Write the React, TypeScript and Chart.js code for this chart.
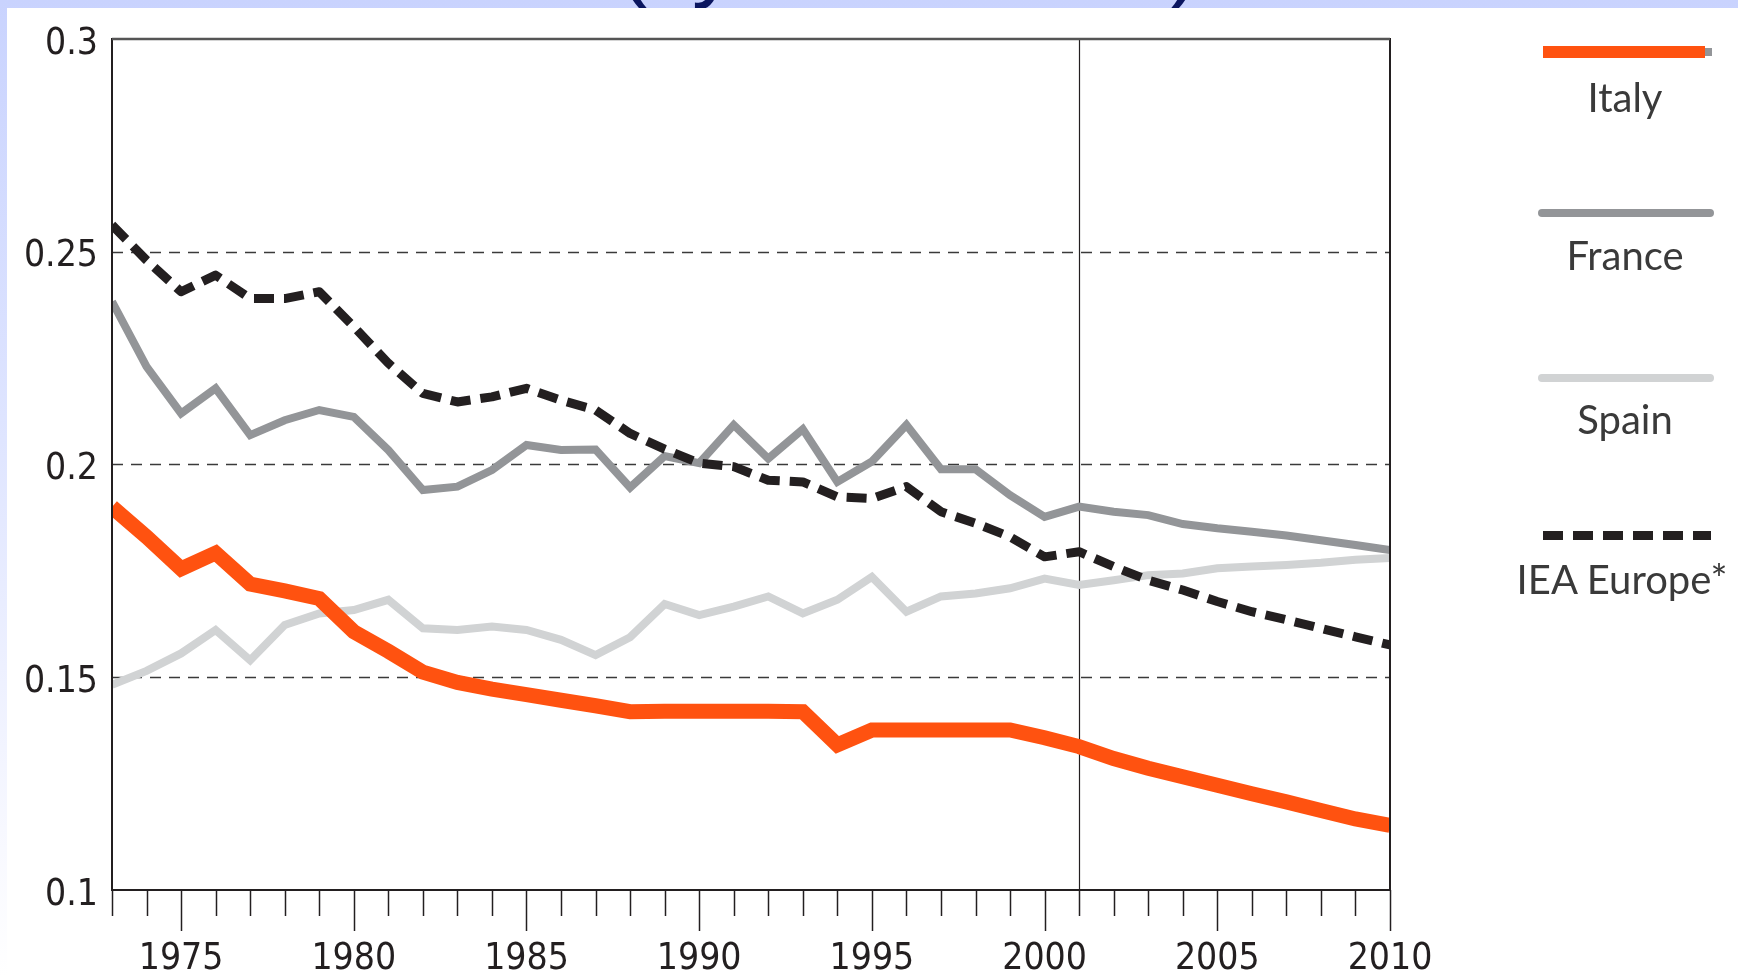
import React, { useEffect, useRef } from "react";
import { Chart, registerables } from "chart.js";

Chart.register(...registerables);

// ---------- data ----------
const years = [
  1973, 1974, 1975, 1976, 1977, 1978, 1979, 1980, 1981, 1982,
  1983, 1984, 1985, 1986, 1987, 1988, 1989, 1990, 1991, 1992,
  1993, 1994, 1995, 1996, 1997, 1998, 1999, 2000, 2001, 2002,
  2003, 2004, 2005, 2006, 2007, 2008, 2009, 2010,
];

const italy = [
  0.19, 0.183, 0.1755, 0.1792, 0.1719, 0.1703, 0.1685, 0.1607, 0.1561, 0.1512,
  0.1488, 0.1472, 0.1459, 0.1446, 0.1433, 0.1419, 0.142, 0.142, 0.142, 0.142,
  0.1419, 0.1341, 0.1376, 0.1376, 0.1376, 0.1376, 0.1376, 0.1358, 0.1337, 0.1309,
  0.1286, 0.1266, 0.1246, 0.1226, 0.1207, 0.1187, 0.1167, 0.1152,
];

const france = [
  0.2383, 0.223, 0.212, 0.2179, 0.2069, 0.2104, 0.2128, 0.2112, 0.2034, 0.194,
  0.1948, 0.1987, 0.2046, 0.2034, 0.2035, 0.1946, 0.202, 0.2003, 0.2093, 0.2014,
  0.2083, 0.1959, 0.2007, 0.2093, 0.1989, 0.1989, 0.1928, 0.1877, 0.1901, 0.1889,
  0.1881, 0.186, 0.185, 0.1842, 0.1833, 0.1822, 0.1811, 0.1799,
];

const spain = [
  0.1482, 0.1515, 0.1556, 0.1611, 0.154, 0.1623, 0.165, 0.1658, 0.1682, 0.1615,
  0.1611, 0.1619, 0.1611, 0.1588, 0.1552, 0.1594, 0.1672, 0.1646, 0.1666, 0.169,
  0.165, 0.1682, 0.1736, 0.1654, 0.169, 0.1697, 0.1709, 0.1732, 0.1717, 0.1728,
  0.174, 0.1744, 0.1756, 0.176, 0.1764, 0.1769, 0.1776, 0.178,
];

const ieaEurope = [
  0.2563, 0.248, 0.2406, 0.2445, 0.239, 0.239, 0.2406, 0.2324, 0.2238, 0.2167,
  0.2147, 0.2159, 0.2179, 0.2151, 0.2128, 0.2073, 0.2036, 0.2003, 0.1995, 0.1963,
  0.1959, 0.1924, 0.192, 0.1948, 0.1889, 0.1862, 0.183, 0.1783, 0.1795, 0.176,
  0.1728, 0.1705, 0.1678, 0.1654, 0.1635, 0.1615, 0.1595, 0.1576,
];

const seriesNames = ["Italy", "France", "Spain", "IEA Europe*"];
const seriesColors = ["#ff5210", "#939598", "#d1d3d4", "#231f20"];

const xTickValues = [1975, 1980, 1985, 1990, 1995, 2000, 2005, 2010];
const yTickValues = [0.1, 0.15, 0.2, 0.25, 0.3];
const yTickLabels = ["0.1", "0.15", "0.2", "0.25", "0.3"];
const dividerYear = 2001;

// ---------- helpers ----------
const tickFont = '"Liberation Sans Narrow", "DejaVu Sans Condensed", "Liberation Sans", sans-serif';

const framePlugin = {
  id: "framePlugin",
  beforeDatasetsDraw(chart: any) {
    const { ctx, chartArea: a, scales } = chart;
    const xs = scales.x;
    const ys = scales.y;
    ctx.save();
    ctx.strokeStyle = "#3a3a3a";
    ctx.lineWidth = 1.5;
    ctx.setLineDash([11, 8]);
    yTickValues.slice(1, -1).forEach((v) => {
      const py = Math.round(ys.getPixelForValue(v)) + 0.5;
      ctx.beginPath();
      ctx.moveTo(a.left, py);
      ctx.lineTo(a.right, py);
      ctx.stroke();
    });
    ctx.setLineDash([]);
    const dx = Math.round(xs.getPixelForValue(dividerYear)) + 0.5;
    ctx.strokeStyle = "#231f20";
    ctx.lineWidth = 1.2;
    ctx.beginPath();
    ctx.moveTo(dx, a.top);
    ctx.lineTo(dx, a.bottom);
    ctx.stroke();
    ctx.restore();
  },
  afterDatasetsDraw(chart: any) {
    const { ctx, chartArea: a, scales } = chart;
    const xs = scales.x;
    ctx.save();
    ctx.strokeStyle = "#231f20";
    ctx.lineWidth = 2;
    ctx.strokeRect(a.left, a.top, a.right - a.left, a.bottom - a.top);
    ctx.lineWidth = 2.5;
    ctx.strokeStyle = "#555";
    ctx.beginPath();
    ctx.moveTo(a.left, a.top);
    ctx.lineTo(a.right, a.top);
    ctx.stroke();
    ctx.strokeStyle = "#231f20";
    ctx.lineWidth = 1.5;
    for (let yr = years[0]; yr <= years[years.length - 1]; yr++) {
      const px = Math.round(xs.getPixelForValue(yr)) + 0.5;
      const len = yr % 5 === 0 ? 41 : 26;
      ctx.beginPath();
      ctx.moveTo(px, a.bottom);
      ctx.lineTo(px, a.bottom + len);
      ctx.stroke();
    }
    ctx.restore();
  },
};

function App() {
  const canvasRef = useRef<HTMLCanvasElement | null>(null);

  useEffect(() => {
    const canvas = canvasRef.current;
    if (!canvas) return;
    const mk = (arr: number[]) => years.map((yr, i) => ({ x: yr, y: arr[i] }));
    const chart = new Chart(canvas, {
      type: "line",
      data: {
        datasets: [
          { label: seriesNames[0], data: mk(italy), borderColor: seriesColors[0], borderWidth: 15, order: 0, clip: 0 },
          { label: seriesNames[1], data: mk(france), borderColor: seriesColors[1], borderWidth: 8, order: 2, clip: 0 },
          { label: seriesNames[2], data: mk(spain), borderColor: seriesColors[2], borderWidth: 8, order: 3, clip: 0 },
          {
            label: seriesNames[3],
            data: mk(ieaEurope),
            borderColor: seriesColors[3],
            borderWidth: 9,
            borderDash: [20, 10],
            borderJoinStyle: "round",
            order: 1,
            clip: 0,
          },
        ] as any,
      },
      options: {
        animation: false,
        responsive: false,
        maintainAspectRatio: false,
        layout: { padding: { left: 0, top: 39, right: 348, bottom: 0 } },
        elements: { point: { radius: 0, hoverRadius: 0 }, line: { tension: 0 } },
        plugins: { legend: { display: false }, tooltip: { enabled: false }, title: { display: false } },
        scales: {
          x: {
            type: "linear",
            min: years[0],
            max: years[years.length - 1],
            grid: { display: false, drawTicks: false },
            border: { display: false },
            afterBuildTicks: (s: any) => {
              s.ticks = xTickValues.map((v) => ({ value: v }));
            },
            afterFit: (s: any) => {
              s.height = 86;
            },
            ticks: {
              autoSkip: false,
              maxRotation: 0,
              minRotation: 0,
              padding: 47,
              color: "#231f20",
              font: { family: tickFont, size: 37 },
              callback: (v: any) => String(v),
            },
          },
          y: {
            type: "linear",
            min: yTickValues[0],
            max: yTickValues[yTickValues.length - 1],
            grid: { display: false, drawTicks: false },
            border: { display: false },
            afterBuildTicks: (s: any) => {
              s.ticks = yTickValues.map((v) => ({ value: v }));
            },
            afterFit: (s: any) => {
              s.width = 112;
            },
            ticks: {
              padding: 14,
              labelOffset: 5,
              color: "#231f20",
              font: { family: tickFont, size: 37 },
              callback: (v: any) => {
                const i = yTickValues.findIndex((t) => Math.abs(t - v) < 1e-9);
                return i >= 0 ? yTickLabels[i] : "";
              },
            },
          },
        },
      } as any,
      plugins: [framePlugin],
    });
    return () => chart.destroy();
  }, []);

  const legendLineLeft = 1538;
  const legendLineWidth = 176;
  const textStyle = (cx: number, cy: number): React.CSSProperties => ({
    position: "absolute",
    left: cx - 160,
    width: 320,
    top: cy - 25,
    height: 50,
    lineHeight: "50px",
    textAlign: "center",
    fontFamily: "Lato, 'Open Sans', sans-serif",
    fontSize: 40,
    color: "#3a3a3a",
    whiteSpace: "nowrap",
  });
  const glyph = (left: number): React.CSSProperties => ({
    position: "absolute",
    left,
    top: -86,
    fontFamily: "'Liberation Sans', Arial, sans-serif",
    fontSize: 90,
    lineHeight: "90px",
    color: "#0b1660",
  });

  return (
    <div
      style={{
        position: "fixed",
        left: 0,
        top: 0,
        width: 1738,
        height: 976,
        overflow: "hidden",
        background: "linear-gradient(to bottom, #c9d3fe 0%, #dfe5ff 45%, #f7f8ff 85%, #ffffff 100%)",
      }}
    >
      <div style={glyph(618)}>(</div>
      <div style={glyph(692)}>y</div>
      <div style={glyph(1170)}>)</div>
      <div style={{ position: "absolute", left: 7, top: 8, right: 0, bottom: 0, background: "#ffffff" }} />
      <canvas
        ref={canvasRef}
        width={1738}
        height={976}
        style={{ position: "absolute", left: 0, top: 0, width: 1738, height: 976 }}
      />
      <div style={{ position: "absolute", left: 1704, top: 48, width: 8, height: 8, background: "#939598" }} />
      <div style={{ position: "absolute", left: 1543, top: 46, width: 162, height: 12, background: seriesColors[0] }} />
      <div style={textStyle(1625, 97)}>{seriesNames[0]}</div>

      <div
        style={{
          position: "absolute",
          left: legendLineLeft,
          top: 209,
          width: legendLineWidth,
          height: 8,
          borderRadius: 4,
          background: seriesColors[1],
        }}
      />
      <div style={textStyle(1625, 255)}>{seriesNames[1]}</div>

      <div
        style={{
          position: "absolute",
          left: legendLineLeft,
          top: 374,
          width: legendLineWidth,
          height: 8,
          borderRadius: 4,
          background: seriesColors[2],
        }}
      />
      <div style={textStyle(1625, 419)}>{seriesNames[2]}</div>

      <div
        style={{
          position: "absolute",
          left: 1543,
          top: 531,
          width: 168,
          height: 9,
          background: `repeating-linear-gradient(to right, ${seriesColors[3]} 0px, ${seriesColors[3]} 20px, transparent 20px, transparent 30px)`,
        }}
      />
      <div style={textStyle(1622, 579)}>{seriesNames[3]}</div>
    </div>
  );
}

export default App;
